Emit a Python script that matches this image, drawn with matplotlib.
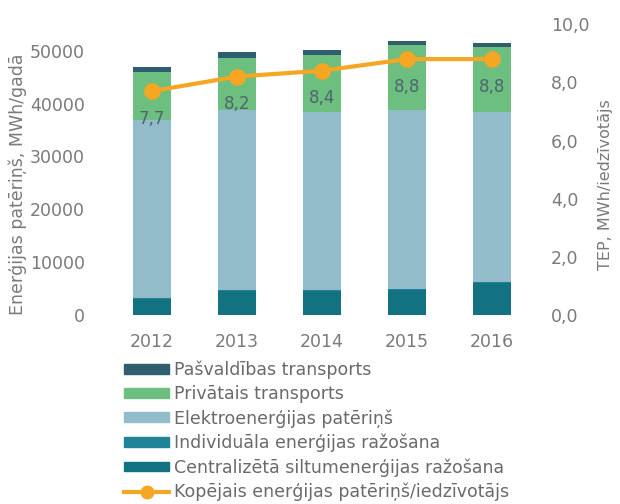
import numpy as np
import matplotlib
matplotlib.use('Agg')
import matplotlib.pyplot as plt
from matplotlib.patches import Patch
from matplotlib.lines import Line2D

plt.rcParams['font.family'] = ['DejaVu Sans']

# ----------
# Data (MWh per year)
#
years = ['2012', '2013', '2014', '2015', '2016']
centralizeta = [3000, 4500, 4500, 4700, 6000]
individuala = [200, 200, 200, 200, 200]
elektro = [33700, 34050, 33700, 33850, 32200]
privatais = [9100, 9950, 10750, 12290, 12320]
pasvaldibas = [940, 950, 950, 760, 750]
# MWh per inhabitant
tep = [7.7, 8.2, 8.4, 8.8, 8.8]
tep_labels = ['7,7', '8,2', '8,4', '8,8', '8,8']

names = ['Centralizētā siltumenerģijas ražošana',
         'Individuāla enerģijas ražošana',
         'Elektroenerģijas patēriņš',
         'Privātais transports',
         'Pašvaldības transports']
line_name = 'Kopējais enerģijas patēriņš/iedzīvotājs'
colors = ['#137282', '#1f8496', '#93bccb', '#6dbf7f', '#2f5f6f']
orange = '#f5a623'
grey = '#7a7a7a'

fig = plt.figure(figsize=(6.2, 5.04), dpi=100, facecolor='white')
ax = fig.add_axes([0.177, 0.375, 0.685, 0.577])
ax2 = ax.twinx()

x = np.arange(len(years))
bottom = np.zeros(len(years))
for vals, c in zip([centralizeta, individuala, elektro, privatais, pasvaldibas], colors):
    ax.bar(x, vals, width=0.45, bottom=bottom, color=c, zorder=2)
    bottom += np.array(vals)

ax2.plot(x, tep, color=orange, lw=3, marker='o', ms=11, zorder=3)
for xi, v, t in zip(x, tep, tep_labels):
    ax2.annotate(t, (xi, v), xytext=(0, -20), textcoords='offset points',
                 ha='center', va='center', fontsize=12, color='#4f6470')

ax.set_xlim(-0.5, 4.5)
ax.set_ylim(0, 55000)
ax2.set_ylim(0, 10)
ax.set_yticks([0, 10000, 20000, 30000, 40000, 50000])
ax2.set_yticks([0, 2, 4, 6, 8, 10])
ax2.set_yticklabels(['0,0', '2,0', '4,0', '6,0', '8,0', '10,0'])
ax.set_xticks(x)
ax.set_xticklabels(years)

for a in (ax, ax2):
    for s in a.spines.values():
        s.set_visible(False)
    a.tick_params(length=0, colors=grey, labelsize=12.5)
ax.tick_params(axis='y', pad=18)
ax.tick_params(axis='x', pad=13)
ax2.tick_params(axis='y', pad=12)

ax.set_ylabel('Enerģijas patēriņš, MWh/gadā', color=grey, fontsize=12.5)
ax.yaxis.set_label_coords(-0.195, 0.45)
ax2.set_ylabel('TEP, MWh/iedzīvotājs', color=grey, fontsize=11.5)
ax2.yaxis.set_label_coords(1.15, 0.45)

handles = [Patch(color=c) for c in colors[::-1]]
handles.append(Line2D([0], [0], color=orange, lw=3, marker='o', ms=9))
labels = names[::-1] + [line_name]
fig.legend(handles, labels, loc='upper left', bbox_to_anchor=(0.2, 0.285),
           frameon=False, fontsize=12.5, handlelength=2.6, handleheight=0.5,
           handletextpad=0.3, labelspacing=0.35, labelcolor='#6a6a6a',
           borderaxespad=0, borderpad=0)

fig.savefig('out.png', dpi=100, facecolor='white')
